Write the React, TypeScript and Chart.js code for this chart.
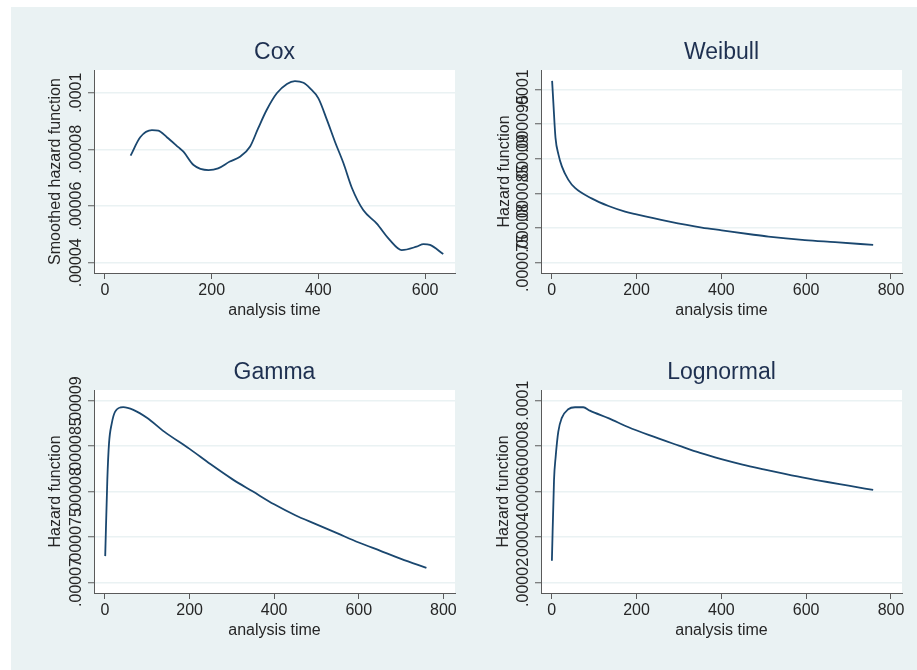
import React, { useEffect, useRef } from "react";
import { Chart, registerables } from "chart.js";

Chart.register(...registerables);

// ---------- data ----------
const coxTime = [48, 66, 88, 100, 116, 138, 147, 166, 194, 212, 234, 253, 272, 287, 303, 322, 341, 356, 372, 384, 400, 416, 431, 447, 463, 484, 509, 534, 556, 584, 597, 609, 634];
const coxHazard = [0.0000778, 0.0000843, 0.0000868, 0.0000866, 0.0000843, 0.0000807, 0.0000792, 0.0000745, 0.0000727, 0.0000733, 0.0000757, 0.0000774, 0.000081, 0.0000874, 0.0000939, 0.0000998, 0.0001031, 0.0001041, 0.0001035, 0.0001016, 0.000098, 0.0000904, 0.0000827, 0.0000751, 0.0000663, 0.0000586, 0.0000539, 0.000048, 0.0000445, 0.0000457, 0.0000466, 0.0000463, 0.0000431];

const weibullTime = [1, 4, 9, 16, 24, 39, 55, 94, 134, 173, 200, 275, 354, 401, 472, 511, 597, 668, 758];
const weibullHazard = [0.0001012, 0.000098, 0.000093, 0.0000906, 0.0000889, 0.000087, 0.0000858, 0.0000843, 0.0000832, 0.0000824, 0.000082, 0.000081, 0.0000801, 0.0000797, 0.0000791, 0.0000788, 0.0000783, 0.000078, 0.0000776];

const gammaTime = [0.5, 5.5, 9.5, 16, 24, 43, 67, 100, 140, 200, 250, 300, 350, 400, 450, 500, 550, 600, 650, 700, 760];
const gammaHazard = [0.0000729, 0.0000813, 0.0000853, 0.0000875, 0.0000888, 0.0000893, 0.000089, 0.0000881, 0.0000866, 0.0000847, 0.000083, 0.0000814, 0.00008, 0.0000786, 0.0000774, 0.0000764, 0.0000754, 0.0000744, 0.0000735, 0.0000726, 0.0000716];

const lognormalTime = [0.5, 5.5, 9.4, 15.6, 23.6, 39, 55, 74.5, 90, 135, 180, 230, 300, 350, 400, 450, 500, 550, 600, 650, 700, 758];
const lognormalHazard = [0.0000295, 0.0000651, 0.0000754, 0.0000864, 0.0000923, 0.0000962, 0.0000971, 0.0000971, 0.0000956, 0.0000922, 0.0000884, 0.0000848, 0.0000802, 0.000077, 0.0000743, 0.0000719, 0.0000698, 0.0000678, 0.0000659, 0.0000642, 0.0000626, 0.0000607];

const coxXTicks = [0, 200, 400, 600];
const fullXTicks = [0, 200, 400, 600, 800];
const xTickLabels = ["0", "200", "400", "600", "800"];

const coxYTicks = [0.00004, 0.00006, 0.00008, 0.0001];
const coxYLabels = [".00004", ".00006", ".00008", ".0001"];
const weibullYTicks = [0.000075, 0.00008, 0.000085, 0.00009, 0.000095, 0.0001];
const weibullYLabels = [".000075", ".00008", ".000085", ".00009", ".000095", ".0001"];
const gammaYTicks = [0.00007, 0.000075, 0.00008, 0.000085, 0.00009];
const gammaYLabels = [".00007", ".000075", ".00008", ".000085", ".00009"];
const lognormalYTicks = [0.00002, 0.00004, 0.00006, 0.00008, 0.0001];
const lognormalYLabels = [".00002", ".00004", ".00006", ".00008", ".0001"];

const titles = ["Cox", "Weibull", "Gamma", "Lognormal"];
const yTitles = ["Smoothed hazard function", "Hazard function", "Hazard function", "Hazard function"];
const xTitle = "analysis time";

// ---------- layout / style ----------
const FONT = '"Liberation Sans", Arial, Helvetica, sans-serif';
const LINE = "#1a476f";
const AXIS = "#5a5a5a";
const GRID = "#eaf2f3";
const TEXT = "#262626";
const TITLE = "#1e3050";
const Y_AXIS_W = 64;
const PAD_TOP = 40;
const PAD_RIGHT = 15;
const X_AXIS_H = 57;

type PanelCfg = {
  title: string;
  yTitle: string;
  time: number[];
  hazard: number[];
  xTicks: number[];
  yTicks: number[];
  yLabels: string[];
  xMin: number;
  xMax: number;
  yMin: number;
  yMax: number;
  plot: { left: number; top: number; right: number; bottom: number };
  yTitleOffset: number;
};

const panels: PanelCfg[] = [
  {
    title: titles[0], yTitle: yTitles[0], time: coxTime, hazard: coxHazard,
    xTicks: coxXTicks, yTicks: coxYTicks, yLabels: coxYLabels,
    xMin: -20.6, xMax: 656, yMin: 0.0000364, yMax: 0.000108,
    plot: { left: 94, top: 70, right: 455, bottom: 273 }, yTitleOffset: 38,
  },
  {
    title: titles[1], yTitle: yTitles[1], time: weibullTime, hazard: weibullHazard,
    xTicks: fullXTicks, yTicks: weibullYTicks, yLabels: weibullYLabels,
    xMin: -25.2, xMax: 826, yMin: 0.00007356, yMax: 0.00010277,
    plot: { left: 541, top: 70, right: 902, bottom: 273 }, yTitleOffset: 36,
  },
  {
    title: titles[2], yTitle: yTitles[2], time: gammaTime, hazard: gammaHazard,
    xTicks: fullXTicks, yTicks: gammaYTicks, yLabels: gammaYLabels,
    xMin: -26, xMax: 827.6, yMin: 0.00006884, yMax: 0.00009118,
    plot: { left: 94, top: 390, right: 455, bottom: 593 }, yTitleOffset: 38,
  },
  {
    title: titles[3], yTitle: yTitles[3], time: lognormalTime, hazard: lognormalHazard,
    xTicks: fullXTicks, yTicks: lognormalYTicks, yLabels: lognormalYLabels,
    xMin: -25.2, xMax: 826, yMin: 0.00001534, yMax: 0.0001047,
    plot: { left: 541, top: 390, right: 902, bottom: 593 }, yTitleOffset: 37,
  },
];

function Panel({ cfg }: { cfg: PanelCfg }) {
  const ref = useRef<HTMLCanvasElement | null>(null);
  const left = cfg.plot.left - Y_AXIS_W;
  const top = cfg.plot.top - PAD_TOP;
  const width = cfg.plot.right - cfg.plot.left + Y_AXIS_W + PAD_RIGHT;
  const height = cfg.plot.bottom - cfg.plot.top + PAD_TOP + X_AXIS_H;

  useEffect(() => {
    if (!ref.current) return;
    const decor = {
      id: "panelDecor",
      beforeDraw(chart: any) {
        const { ctx, chartArea: a } = chart;
        ctx.save();
        ctx.fillStyle = "#ffffff";
        ctx.fillRect(a.left, a.top, a.right - a.left, a.bottom - a.top);
        ctx.restore();
      },
      afterDraw(chart: any) {
        const { ctx, chartArea: a } = chart;
        const xs = chart.scales.x;
        const ys = chart.scales.y;
        ctx.save();
        ctx.fillStyle = TEXT;
        ctx.textAlign = "center";
        ctx.textBaseline = "middle";
        ctx.font = `16px ${FONT}`;
        cfg.xTicks.forEach((v, i) => {
          ctx.fillText(xTickLabels[i], xs.getPixelForValue(v), a.bottom + 18);
        });
        ctx.fillText(xTitle, (a.left + a.right) / 2, a.bottom + 38);
        cfg.yTicks.forEach((v, i) => {
          ctx.save();
          ctx.translate(a.left - 17, ys.getPixelForValue(v));
          ctx.rotate(-Math.PI / 2);
          ctx.fillText(cfg.yLabels[i], 0, 0);
          ctx.restore();
        });
        ctx.save();
        ctx.translate(a.left - cfg.yTitleOffset, (a.top + a.bottom) / 2);
        ctx.rotate(-Math.PI / 2);
        ctx.fillText(cfg.yTitle, 0, 0);
        ctx.restore();
        ctx.fillStyle = TITLE;
        ctx.font = `23px ${FONT}`;
        ctx.fillText(cfg.title, (a.left + a.right) / 2, a.top - 17);
        ctx.restore();
      },
    };

    const chart = new Chart(ref.current, {
      type: "line",
      data: {
        datasets: [
          {
            data: cfg.time.map((t, i) => ({ x: t, y: cfg.hazard[i] })),
            borderColor: LINE,
            borderWidth: 1.8,
            pointRadius: 0,
            fill: false,
            cubicInterpolationMode: "monotone",
          },
        ],
      },
      options: {
        responsive: false,
        animation: false,
        events: [],
        layout: { padding: { top: PAD_TOP, right: PAD_RIGHT, left: 0, bottom: 0 } },
        plugins: { legend: { display: false }, tooltip: { enabled: false }, title: { display: false } },
        scales: {
          x: {
            type: "linear",
            min: cfg.xMin,
            max: cfg.xMax,
            afterBuildTicks: (axis: any) => {
              axis.ticks = cfg.xTicks.map((v) => ({ value: v }));
            },
            afterFit: (s: any) => {
              s.height = X_AXIS_H;
            },
            ticks: { display: false },
            grid: { drawOnChartArea: false, drawTicks: true, tickLength: 6, tickColor: AXIS, tickWidth: 1 },
            border: { display: true, color: AXIS, width: 1 },
          },
          y: {
            type: "linear",
            min: cfg.yMin,
            max: cfg.yMax,
            afterBuildTicks: (axis: any) => {
              axis.ticks = cfg.yTicks.map((v) => ({ value: v }));
            },
            afterFit: (s: any) => {
              s.width = Y_AXIS_W;
            },
            ticks: { display: false },
            grid: { color: GRID, lineWidth: 1.5, drawTicks: true, tickLength: 6, tickColor: AXIS, tickWidth: 1 },
            border: { display: true, color: AXIS, width: 1 },
          },
        },
      } as any,
      plugins: [decor],
    });
    return () => chart.destroy();
  }, [cfg]);

  return (
    <canvas
      ref={ref}
      width={width}
      height={height}
      style={{ position: "absolute", left, top, width, height, display: "block" }}
    />
  );
}

export default function App() {
  return (
    <div style={{ position: "absolute", left: 0, top: 0, width: 917, height: 670, overflow: "hidden", background: "#ffffff" }}>
      <div style={{ position: "absolute", left: 11, top: 7, width: 906, height: 663, background: "#eaf2f3" }} />
      {panels.map((p) => (
        <Panel key={p.title} cfg={p} />
      ))}
    </div>
  );
}
